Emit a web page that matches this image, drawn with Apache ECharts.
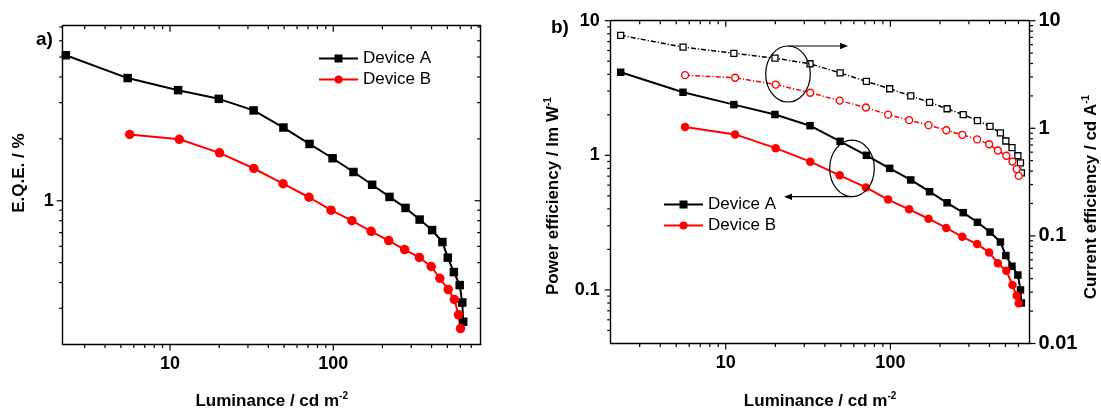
<!DOCTYPE html>
<html>
<head>
<meta charset="utf-8">
<script src="https://cdn.jsdelivr.net/npm/echarts@6/dist/echarts.min.js"></script>
<style>
html,body{margin:0;padding:0;background:#fff;}
#chart{width:1101px;height:415px;}
</style>
</head>
<body>
<div id="chart"></div>
<script>
// ---- data ----
const lumA = [2.3, 5.5, 11.2, 19.9, 32.5, 49.5, 71.5, 99, 133, 173, 221, 277, 338, 403, 466, 503, 548, 595, 617, 625];
const eqeA = [5.10, 3.95, 3.45, 3.13, 2.75, 2.27, 1.89, 1.61, 1.38, 1.196, 1.044, 0.923, 0.81, 0.72, 0.63, 0.529, 0.45, 0.389, 0.32, 0.258];
const lumB = [5.66, 11.4, 20.1, 32.6, 49.2, 71, 96.8, 130, 170.5, 218.5, 273.5, 336.5, 398, 449.5, 506, 551.5, 585, 602];
const eqeB = [2.10, 1.99, 1.71, 1.435, 1.21, 1.04, 0.90, 0.80, 0.71, 0.64, 0.579, 0.53, 0.479, 0.42, 0.37, 0.331, 0.279, 0.239];
const peA = [4.14, 2.94, 2.38, 2.01, 1.66, 1.27, 1.0, 0.80, 0.656, 0.537, 0.444, 0.375, 0.318, 0.269, 0.227, 0.18, 0.150, 0.129, 0.100, 0.080];
const peB = [1.62, 1.43, 1.13, 0.897, 0.71, 0.577, 0.469, 0.397, 0.338, 0.289, 0.248, 0.219, 0.19, 0.158, 0.139, 0.109, 0.0904, 0.0796];
const ceA = [7.31, 5.68, 4.98, 4.48, 3.98, 3.27, 2.73, 2.33, 2.0, 1.74, 1.52, 1.34, 1.18, 1.04, 0.907, 0.762, 0.662, 0.556, 0.477, 0.385];
const ceB = [3.12, 2.95, 2.55, 2.14, 1.81, 1.56, 1.34, 1.19, 1.07, 0.959, 0.87, 0.789, 0.711, 0.622, 0.556, 0.491, 0.418, 0.361];

const seriesNames = ['Device A', 'Device B'];

// axis ranges
const xRangeA = [2.2, 800];
const yRangeA = [0.2, 7.1];
const xRangeB = [2, 700];
const yRangePE = [0.04, 10];
const yRangeCE = [0.01, 10];

// tick values
const majorX = [10, 100];
const minorXA = [3, 4, 5, 6, 7, 8, 9, 20, 30, 40, 50, 60, 70, 80, 90, 200, 300, 400, 500, 600, 700];
const minorXB = [3, 4, 5, 6, 7, 8, 9, 20, 30, 40, 50, 60, 70, 80, 90, 200, 300, 400, 500, 600];
const majorYA = [1];
const minorYA = [0.3, 0.4, 0.5, 0.6, 0.7, 0.8, 0.9, 2, 3, 4, 5, 6, 7];
const majorYPE = [0.1, 1, 10];
const minorYPE = [0.05, 0.06, 0.07, 0.08, 0.09, 0.2, 0.3, 0.4, 0.5, 0.6, 0.7, 0.8, 0.9, 2, 3, 4, 5, 6, 7, 8, 9];
const majorYCE = [0.01, 0.1, 1, 10];
const minorYCE = [0.02, 0.03, 0.04, 0.05, 0.06, 0.07, 0.08, 0.09, 0.2, 0.3, 0.4, 0.5, 0.6, 0.7, 0.8, 0.9, 2, 3, 4, 5, 6, 7, 8, 9];

// ---- helpers ----
const FONT = '"Liberation Sans", Arial, Helvetica, sans-serif';
const zip = (xs, ys) => ys.map((y, i) => (y == null ? null : [xs[i], y]));
const powLabel = v => {
  const l = Math.log10(v);
  const r = Math.round(l);
  if (Math.abs(l - r) > 1e-4) return '';
  return r >= 0 ? String(Math.pow(10, r)) : Math.pow(10, r).toFixed(-r);
};
const nameRich = {
  a: { fontSize: 17, fontWeight: 'bold', fontFamily: FONT, color: '#000', lineHeight: 20 },
  s: { fontSize: 10, fontWeight: 'bold', fontFamily: FONT, color: '#000', verticalAlign: 'top', lineHeight: 20 }
};
const axisLine = { show: true, onZero: false, lineStyle: { color: '#000', width: 1.4 } };

function logAxis(grid, pos, range, opts) {
  return Object.assign({
    type: 'log', logBase: 10, gridIndex: grid, position: pos,
    min: range[0], max: range[1],
    axisLine: axisLine,
    axisTick: { show: false },
    splitLine: { show: false },
    minorTick: { show: false },
    axisLabel: { show: false }
  }, opts || {});
}
function labelStyle(size, margin) {
  return {
    show: true, formatter: powLabel, fontSize: size, fontWeight: 'bold',
    fontFamily: FONT, color: '#000', margin: margin,
    showMinLabel: true, showMaxLabel: true
  };
}

// ticks drawn through the axes' own scales
function tickSeries(xi, yi, cfg) {
  return {
    type: 'custom', xAxisIndex: xi, yAxisIndex: yi, silent: true, z: 10, clip: false,
    data: [[cfg.xr[0], cfg.yr[0]]],
    renderItem: function (params, api) {
      const ch = [];
      const seg = (x1, y1, x2, y2) => ch.push({
        type: 'line', shape: { x1, y1, x2, y2 },
        style: { stroke: '#000', lineWidth: 1.2 }
      });
      const addX = (vals, len) => {
        vals.forEach(v => {
          if (cfg.bottom) { const p = api.coord([v, cfg.yr[0]]); seg(p[0], p[1], p[0], p[1] + cfg.bottom * len); }
          if (cfg.top) { const p = api.coord([v, cfg.yr[1]]); seg(p[0], p[1], p[0], p[1] + cfg.top * len); }
        });
      };
      const addY = (vals, len) => {
        vals.forEach(v => {
          if (cfg.left) { const p = api.coord([cfg.xr[0], v]); seg(p[0], p[1], p[0] + cfg.left * len, p[1]); }
          if (cfg.right) { const p = api.coord([cfg.xr[1], v]); seg(p[0], p[1], p[0] + cfg.right * len, p[1]); }
        });
      };
      if (cfg.xMajor) addX(cfg.xMajor, 6);
      if (cfg.xMinor) addX(cfg.xMinor, 3.5);
      if (cfg.yMajor) addY(cfg.yMajor, 6);
      if (cfg.yMinor) addY(cfg.yMinor, 3.5);
      return { type: 'group', children: ch };
    }
  };
}

function lineSeries(name, xi, yi, data, color, symbol, size, open, dash) {
  return {
    name: name, type: 'line', xAxisIndex: xi, yAxisIndex: yi,
    data: data, symbol: symbol, symbolSize: size, showSymbol: true,
    connectNulls: false, z: open ? 3 : 4,
    lineStyle: { color: color, width: open ? 1.5 : 2, type: dash ? [5, 2, 1.2, 2] : 'solid' },
    itemStyle: open ? { color: '#fff', borderColor: color, borderWidth: 1.3 } : { color: color, borderWidth: 0 },
    emphasis: { disabled: true }
  };
}

const chart = echarts.init(document.getElementById('chart'), null, { renderer: 'canvas' });

const option = {
  animation: false,
  backgroundColor: '#fff',
  grid: [
    { left: 62.7, top: 25.7, width: 418, height: 326.8, containLabel: false },
    { left: 610.7, top: 20.7, width: 419.8, height: 330.4, containLabel: false }
  ],
  xAxis: [
    logAxis(0, 'bottom', xRangeA, {
      axisLabel: labelStyle(18, 11),
      name: '{a|Luminance / cd m}{s|-2}', nameLocation: 'middle', nameGap: 47,
      nameTextStyle: { rich: nameRich }
    }),
    logAxis(0, 'top', xRangeA),
    logAxis(1, 'bottom', xRangeB, {
      axisLabel: labelStyle(18, 11),
      name: '{a|Luminance / cd m}{s|-2}', nameLocation: 'middle', nameGap: 48,
      nameTextStyle: { rich: nameRich }
    }),
    logAxis(1, 'top', xRangeB)
  ],
  yAxis: [
    logAxis(0, 'left', yRangeA, {
      axisLabel: labelStyle(18, 9),
      name: '{a|E.Q.E. / %}', nameLocation: 'middle', nameGap: 33, nameRotate: 90,
      nameTextStyle: { rich: nameRich, padding: [0, 0, 0, 24] }
    }),
    logAxis(0, 'right', yRangeA),
    logAxis(1, 'left', yRangePE, {
      axisLabel: labelStyle(18, 11),
      name: '{a|Power efficiency / lm W}{s|-1}', nameLocation: 'middle', nameGap: 47, nameRotate: 90,
      nameTextStyle: { rich: nameRich, padding: [0, 28, 0, 0] }
    }),
    logAxis(1, 'right', yRangeCE, {
      axisLabel: labelStyle(20, 9),
      name: '{a|Current efficiency / cd A}{s|-1}', nameLocation: 'middle', nameGap: 52, nameRotate: 90,
      nameTextStyle: { rich: nameRich, padding: [0, 30, 0, 0] }
    })
  ],
  legend: [
    {
      data: seriesNames, orient: 'vertical', left: 313, top: 43,
      itemWidth: 39, itemHeight: 10, itemGap: 0,
      textStyle: { fontSize: 17, fontFamily: FONT, color: '#000', lineHeight: 21 },
      selectedMode: false
    },
    {
      data: seriesNames, orient: 'vertical', left: 658, top: 189,
      itemWidth: 39, itemHeight: 10, itemGap: 0,
      textStyle: { fontSize: 17, fontFamily: FONT, color: '#000', lineHeight: 21 },
      selectedMode: false
    }
  ],
  series: [
    lineSeries(seriesNames[0], 0, 0, zip(lumA, eqeA), '#000', 'rect', 8.5, false, false),
    lineSeries(seriesNames[1], 0, 0, zip(lumB, eqeB), '#ff0000', 'circle', 9.5, false, false),
    lineSeries(seriesNames[0], 2, 2, zip(lumA, peA), '#000', 'rect', 7.5, false, false),
    lineSeries(seriesNames[1], 2, 2, zip(lumB, peB), '#ff0000', 'circle', 8.5, false, false),
    lineSeries('Device A (CE)', 2, 3, zip(lumA, ceA), '#000', 'rect', 6, true, true),
    lineSeries('Device B (CE)', 2, 3, zip(lumB, ceB), '#ff0000', 'circle', 7, true, true),
    tickSeries(0, 0, { xr: xRangeA, yr: yRangeA, xMajor: majorX, xMinor: minorXA, yMajor: majorYA, yMinor: minorYA, bottom: 1, top: 1, left: -1, right: -1 }),
    tickSeries(2, 2, { xr: xRangeB, yr: yRangePE, xMajor: majorX, xMinor: minorXB, yMajor: majorYPE, yMinor: minorYPE, bottom: 1, top: 1, left: -1 }),
    tickSeries(2, 3, { xr: xRangeB, yr: yRangeCE, yMajor: majorYCE, yMinor: minorYCE, right: 1 })
  ],
  graphic: [
    { type: 'text', left: 36, top: 30, style: { text: 'a)', font: 'bold 19px ' + FONT, fill: '#000' } },
    { type: 'text', left: 551, top: 18, style: { text: 'b)', font: 'bold 19px ' + FONT, fill: '#000' } },
    // annotation ellipses and arrows
    { type: 'ellipse', shape: { cx: 788, cy: 74, rx: 22.3, ry: 28 }, style: { fill: 'none', stroke: '#000', lineWidth: 1.2 }, z: 20 },
    { type: 'ellipse', shape: { cx: 852, cy: 168.4, rx: 22.3, ry: 28.3 }, style: { fill: 'none', stroke: '#000', lineWidth: 1.2 }, z: 20 },
    { type: 'line', shape: { x1: 788, y1: 46, x2: 842, y2: 46 }, style: { stroke: '#000', lineWidth: 1.2 }, z: 20 },
    { type: 'polygon', shape: { points: [[848, 46], [840, 42.8], [840, 49.2]] }, style: { fill: '#000' }, z: 20 },
    { type: 'line', shape: { x1: 852, y1: 196.7, x2: 790, y2: 196.7 }, style: { stroke: '#000', lineWidth: 1.2 }, z: 20 },
    { type: 'polygon', shape: { points: [[784, 196.7], [792, 193.5], [792, 199.9]] }, style: { fill: '#000' }, z: 20 }
  ]
};
chart.setOption(option);
</script>
</body>
</html>
